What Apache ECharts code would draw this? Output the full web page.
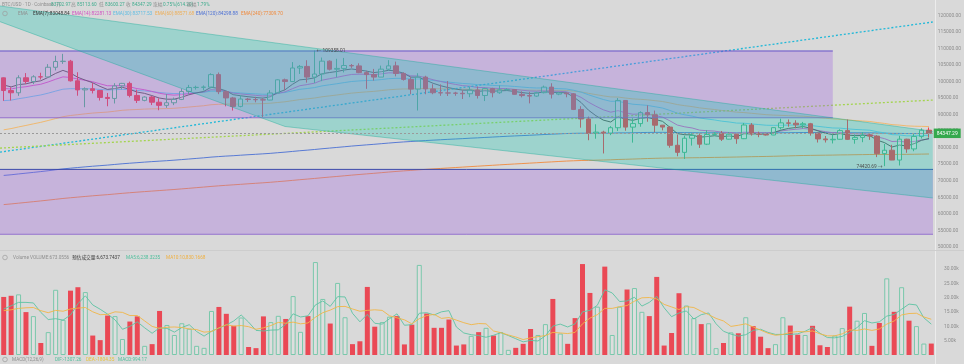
<!DOCTYPE html>
<html><head><meta charset="utf-8">
<script src="https://cdn.jsdelivr.net/npm/echarts@6/dist/echarts.min.js"></script>
<style>html,body{margin:0;padding:0;background:#d9d9d9}#c{width:964px;height:364px}</style>
</head><body><div id="c"></div>
<script>
// ---------- DATA (daily candles) ----------
const opens = [101109,97276,96593,101125,100000,101417,101373,104298,106029,106140,100204,97461,97805,97292,95187,94881,98663,99430,95791,94299,95301,93738,92792,93576,94591,96984,98174,98236,98314,102078,96922,95043,92484,94701,94566,94488,94400,96534,100505,99987,104077,104556,101331,102260,106143,103706,103960,104820,104714,102682,102087,101332,103733,104722,102429,100635,97700,101328,97763,96612,96554,96506,96444,96300,97430,95778,97869,96608,97500,97569,96118,95747,95599,96629,98305,96181,96551,96274,91553,88677,84347,84705,84374,86032,94270,86220,87281,90606,89931,86801,86222,80734,78595,82862,83722,81066,83969,84343,82579,84075,82718,86854,84167,84043,83832,86054,87498,87392,86909,87232,84424,82649,82390,82550,85159,82516,83102,83843,83504,78214,79235,76271,82573,79626,83404,85287];
const closes = [97276,96593,101125,100000,101417,101373,104298,106029,106140,100204,97461,97805,97292,95187,94881,98663,99430,95791,94299,95301,93738,92792,93576,94591,96984,98174,98236,98314,102078,96922,95043,92484,94701,94566,94488,94400,96534,100505,99987,104077,104556,101331,102260,106143,103706,103960,104820,104714,102682,102087,101332,103733,104722,102429,100635,97700,101328,97763,96612,96554,96506,96444,96300,97430,95778,97869,96608,97500,97569,96118,95747,95599,96629,98305,96181,96551,96274,91553,88677,84330,84705,84374,86032,94270,86220,87281,90606,89931,86801,86222,80734,78595,82862,83722,81066,83969,84343,82579,84075,82718,86854,84167,84043,83832,86054,87498,87392,86909,87232,84424,82649,82390,82550,85159,82516,83102,83843,83504,78214,79235,76271,82573,79626,83404,85287,84347.29];
const highs = [101215,98270,101888,102540,101895,102650,105250,107793,108353,106525,102800,98233,99540,97448,96538,99487,99569,99963,97544,95525,95600,94903,96250,95149,97839,98976,98734,98813,102482,102724,97258,95349,95836,95050,95378,95060,97371,100681,100873,105865,104988,106422,109358.01,107240,106394,106850,107120,105286,105500,103260,103800,104800,106457,106012,102783,101456,102500,101732,99188,99120,100137,96880,97323,98345,98500,98119,98100,98826,97972,97704,97046,96883,96899,98767,99475,96890,96650,96503,92540,89414,87078,85120,86522,95000,94416,88911,91000,92810,91224,86876,86500,83955,83617,84358,84300,85263,84672,85051,84725,84200,87453,87443,84850,84513,86094,88765,88542,88292,87786,87494,84567,83534,83943,85579,88500,83998,84720,84230,83783,81119,80867,83588,82700,84247,85856,86100];
const lows = [94150,94256,95658,99311,99205,100609,101228,103333,105321,100000,95700,92232,96398,94250,92520,93357,97632,95199,93500,94014,92881,91317,92033,92869,94392,96100,97562,97291,97926,96181,92500,91220,92206,93831,93712,89256,94346,96500,97335,99950,102278,99651,99550,100103,103339,101262,102750,104106,102520,97777,100272,101328,103320,101560,100279,96150,91231,96150,96155,95676,95620,95688,94713,95256,94850,94088,95217,96252,97223,96046,95205,93388,95362,96416,94871,95869,95227,91371,86050,82256,82716,78258,83794,85050,85117,81530,86334,87836,84667,85226,80000,77420,76606,80635,79931,80797,83639,82017,82492,81179,82600,83647,83175,83674,83794,85541,86346,85861,85837,83645,81565,81565,81279,82432,82320,81211,81659,82368,77153,74420.69,76239,74620,78456,78936,82769,83034];
// volume, thousands
const volumesK = [20.3,20.7,21.2,15.0,13.6,4.2,8.0,22.8,12.3,22.5,23.7,22.0,6.8,5.2,13.8,13.6,5.6,11.7,13.5,3.2,3.8,15.4,10.5,7.0,11.1,9.2,3.2,2.5,15.4,16.8,14.4,10.2,13.1,2.8,2.4,13.5,11.5,13.7,12.6,20.6,8.1,13.6,32.5,19.6,11.0,25.2,13.2,3.8,4.8,23.8,9.9,11.5,13.4,13.6,3.7,10.6,31.5,14.5,9.5,9.5,12.4,3.3,3.7,6.7,8.0,9.5,6.8,8.0,1.8,2.5,3.9,9.1,7.0,10.8,19.6,7.5,3.9,12.9,31.8,21.7,16.9,30.9,7.0,16.9,22.9,23.4,15.1,13.6,27.3,3.3,7.7,21.6,17.3,12.9,10.8,11.1,2.4,4.2,7.9,7.6,13.2,10.1,6.4,2.4,3.8,13.2,10.3,7.1,7.0,10.2,3.4,2.8,6.8,9.4,16.9,12.0,14.7,3.2,11.2,26.8,15.1,23.7,12.0,10.1,4.0,4.0];
const volMa5K = [16.1,17.2,18.4,18.4,18.2,14.9,12.4,12.7,12.2,14.0,17.9,20.7,17.5,16.0,14.3,12.3,9.0,10.0,11.6,9.5,7.6,9.5,9.3,8.0,9.6,10.6,8.2,6.6,8.3,9.4,10.5,11.9,14.0,11.5,8.6,8.4,8.7,8.8,10.7,14.4,13.3,13.7,17.5,18.9,17.0,20.4,20.3,14.6,11.6,14.2,11.1,10.8,12.7,14.4,10.4,10.6,14.6,14.8,14.0,15.1,15.5,9.8,7.7,7.1,6.8,6.2,6.9,7.8,6.8,5.7,4.6,5.1,4.9,6.7,10.1,10.8,9.8,10.9,15.1,15.6,17.4,22.8,21.7,18.7,18.9,20.2,17.1,18.4,20.5,16.5,13.4,14.7,15.4,12.6,14.1,14.7,10.9,8.3,7.3,6.6,7.1,8.6,9.0,7.9,7.2,7.2,7.2,7.4,8.3,9.6,7.6,6.1,6.0,6.5,7.9,9.6,12.0,11.2,11.6,13.6,14.2,16.0,17.8,17.5,13.0,10.8];
const volMa10K = [15.5,15.8,16.3,16.5,16.6,15.5,14.8,15.6,15.3,16.1,16.4,16.6,15.1,14.1,14.2,15.1,14.9,13.8,13.8,11.9,10.0,9.3,9.7,9.8,9.6,9.1,8.9,8.0,8.2,9.5,10.6,10.1,10.3,9.9,9.0,9.5,10.3,11.4,11.1,11.5,10.9,11.2,13.2,14.8,15.7,16.9,17.0,16.1,15.3,15.6,15.8,15.6,13.7,13.0,12.3,10.9,12.7,13.8,14.2,12.8,13.1,12.2,11.3,10.6,11.0,10.9,8.4,7.8,7.0,6.3,5.4,6.0,6.4,6.8,7.9,7.7,7.5,7.9,10.9,12.9,14.1,16.3,16.3,16.9,17.3,18.8,20.0,20.1,19.6,17.7,16.8,15.9,16.9,16.6,15.3,14.1,12.8,11.9,10.0,10.4,10.9,9.8,8.7,7.6,6.9,7.2,7.9,8.2,8.1,8.4,7.4,6.7,6.7,7.4,8.8,8.6,9.1,8.6,9.1,10.8,11.9,14.0,14.5,14.6,13.3,12.5];
// moving averages of price, thousands
const ema7K = [98.95,98.36,99.05,99.29,99.82,100.21,101.23,102.43,103.36,102.57,101.29,100.42,99.64,98.53,97.62,97.88,98.27,97.65,96.81,96.43,95.76,95.02,94.66,94.64,95.23,95.97,96.54,96.98,98.26,97.92,97.20,96.02,95.69,95.41,95.18,94.98,95.37,96.66,97.49,99.14,100.50,100.71,101.10,102.36,102.70,103.02,103.47,103.78,103.50,103.15,102.69,102.95,103.39,103.15,102.52,101.31,101.31,100.42,99.47,98.74,98.18,97.74,97.38,97.39,96.99,97.21,97.06,97.17,97.27,96.98,96.67,96.40,96.46,96.92,96.73,96.68,96.58,95.32,93.66,91.33,89.67,88.34,87.76,89.39,88.60,88.27,88.86,89.13,88.55,87.97,86.16,84.27,83.92,83.87,83.17,83.37,83.61,83.35,83.53,83.33,84.21,84.20,84.16,84.08,84.57,85.30,85.82,86.09,86.38,85.89,85.08,84.41,83.94,84.25,83.82,83.64,83.69,83.64,82.28,81.52,80.21,80.80,80.51,81.23,82.25,82.78];
const ema14K = [97.90,97.73,98.18,98.42,98.82,99.16,99.85,100.67,101.40,101.24,100.74,100.35,99.94,99.31,98.72,98.71,98.81,98.41,97.86,97.52,97.02,96.46,96.08,95.88,96.03,96.32,96.58,96.81,97.51,97.43,97.11,96.49,96.25,96.03,95.82,95.63,95.75,96.38,96.86,97.82,98.72,99.07,99.50,100.39,100.83,101.25,101.73,102.13,102.20,102.19,102.08,102.30,102.62,102.59,102.33,101.71,101.66,101.14,100.54,100.01,99.54,99.13,98.75,98.57,98.20,98.16,97.95,97.89,97.85,97.62,97.37,97.13,97.06,97.23,97.09,97.02,96.92,96.20,95.20,93.75,92.54,91.45,90.73,91.20,90.54,90.11,90.18,90.15,89.70,89.24,88.11,86.84,86.31,85.96,85.31,85.13,85.02,84.69,84.61,84.36,84.69,84.62,84.54,84.45,84.66,85.04,85.35,85.56,85.78,85.60,85.21,84.83,84.53,84.61,84.33,84.17,84.13,84.05,83.27,82.73,81.87,81.96,81.65,81.88,82.33,82.60];
const ema30K = [94.21,94.36,94.80,95.14,95.55,95.93,96.47,97.09,97.67,97.83,97.81,97.81,97.78,97.61,97.43,97.51,97.63,97.51,97.30,97.17,96.95,96.68,96.48,96.36,96.40,96.51,96.62,96.73,97.08,97.07,96.94,96.65,96.52,96.39,96.27,96.15,96.17,96.45,96.68,97.16,97.64,97.88,98.16,98.67,99.00,99.32,99.67,100.00,100.17,100.29,100.36,100.58,100.85,100.95,100.93,100.72,100.76,100.57,100.31,100.07,99.84,99.62,99.41,99.28,99.05,98.97,98.82,98.73,98.66,98.50,98.32,98.14,98.04,98.06,97.94,97.85,97.75,97.35,96.79,95.99,95.26,94.56,94.01,94.03,93.53,93.13,92.97,92.77,92.38,91.98,91.25,90.43,89.94,89.54,88.99,88.67,88.39,88.02,87.77,87.44,87.40,87.19,86.99,86.79,86.74,86.79,86.83,86.84,86.87,86.71,86.45,86.19,85.96,85.91,85.69,85.52,85.41,85.29,84.83,84.47,83.94,83.85,83.58,83.57,83.68,83.72];
const ema60K = [85.40,85.77,86.27,86.72,87.20,87.66,88.21,88.79,89.36,89.72,89.97,90.23,90.46,90.62,90.76,91.02,91.30,91.45,91.54,91.66,91.73,91.76,91.82,91.91,92.08,92.28,92.48,92.67,92.98,93.11,93.17,93.15,93.20,93.24,93.28,93.32,93.43,93.66,93.87,94.20,94.54,94.76,95.01,95.38,95.65,95.92,96.21,96.49,96.69,96.87,97.02,97.24,97.49,97.65,97.75,97.75,97.87,97.87,97.83,97.79,97.75,97.71,97.66,97.65,97.59,97.60,97.57,97.57,97.57,97.52,97.46,97.40,97.37,97.40,97.36,97.33,97.30,97.11,96.83,96.42,96.04,95.66,95.34,95.30,95.00,94.75,94.61,94.46,94.21,93.95,93.52,93.03,92.70,92.41,92.04,91.78,91.54,91.25,91.01,90.74,90.61,90.40,90.19,89.98,89.85,89.77,89.69,89.60,89.52,89.35,89.13,88.91,88.70,88.58,88.38,88.21,88.07,87.92,87.60,87.33,86.97,86.83,86.59,86.49,86.45,86.38];
const ema120K = [71.62,71.82,72.07,72.30,72.54,72.78,73.04,73.32,73.59,73.81,74.01,74.21,74.40,74.57,74.74,74.94,75.14,75.31,75.47,75.64,75.79,75.93,76.07,76.23,76.40,76.58,76.76,76.94,77.15,77.31,77.46,77.58,77.73,77.87,78.00,78.14,78.29,78.48,78.66,78.87,79.08,79.26,79.46,79.68,79.88,80.08,80.28,80.49,80.67,80.85,81.02,81.21,81.40,81.58,81.74,81.87,82.03,82.16,82.28,82.40,82.52,82.63,82.74,82.87,82.97,83.10,83.21,83.33,83.45,83.55,83.65,83.75,83.86,83.98,84.08,84.18,84.28,84.34,84.38,84.38,84.38,84.38,84.39,84.48,84.49,84.51,84.57,84.61,84.63,84.64,84.61,84.56,84.55,84.54,84.51,84.51,84.51,84.49,84.49,84.47,84.49,84.49,84.49,84.48,84.50,84.52,84.54,84.56,84.59,84.59,84.57,84.55,84.54,84.54,84.52,84.51,84.50,84.50,84.44,84.40,84.33,84.32,84.28,84.27,84.28,84.28];
const ema240K = [62.81,63.01,63.24,63.46,63.69,63.92,64.16,64.41,64.66,64.87,65.07,65.27,65.46,65.64,65.81,66.01,66.21,66.39,66.56,66.73,66.89,67.05,67.21,67.37,67.55,67.73,67.92,68.10,68.30,68.47,68.63,68.78,68.93,69.09,69.24,69.39,69.55,69.74,69.92,70.12,70.33,70.52,70.71,70.92,71.12,71.31,71.51,71.71,71.90,72.08,72.26,72.45,72.64,72.82,72.99,73.14,73.31,73.45,73.59,73.73,73.87,74.00,74.14,74.28,74.41,74.55,74.68,74.82,74.95,75.08,75.20,75.33,75.45,75.59,75.71,75.84,75.96,76.05,76.13,76.18,76.23,76.28,76.34,76.44,76.50,76.57,76.65,76.73,76.79,76.85,76.87,76.88,76.92,76.96,76.98,77.03,77.07,77.10,77.14,77.18,77.23,77.28,77.32,77.36,77.41,77.47,77.53,77.59,77.64,77.68,77.71,77.74,77.77,77.82,77.84,77.88,77.91,77.95,77.95,77.96,77.95,77.98,77.99,78.02,78.06,78.10];
// tick labels
const priceTicks = [50000,55000,60000,65000,70000,75000,80000,85000,90000,95000,100000,105000,110000,115000,120000];
const volTicks = [5000,10000,15000,20000,25000,30000];
// drawings, in [bar index, price]
const upperBox = [[-2, 109358.01], [112.0, 88900]];
const lowerBox = [[-2, 73600], [128, 53700]];
const channelPoly = [[-9.6, 125560], [125.5, 84956], [125.5, 64806], [38.0, 86407]];
const cyanTrend = [[-0.5, 78674], [125.5, 117976]];
const greenTrend = [[-0.5, 79883], [125.5, 94383]];
const lastPrice = 84347.29;
const currentVolume = 673.0556;
const highMark = [42, 109358.01];
const lowMark = [119, 74420.69];

// ---------- CHART ----------
const FONT = 'Roboto, "Noto Sans CJK SC", sans-serif';
const N = closes.length;
const RED = '#e8434f', GREEN = '#4fb287';
const chart = echarts.init(document.getElementById('c'), null, {width:964, height:364});
const pairs = (arr, k) => arr.map((v, i) => [i, v * k]);
function lineS(data, color, w, extra) {
  return Object.assign({type:'line', xAxisIndex:0, yAxisIndex:0, data, showSymbol:false, symbol:'none', silent:true, z:2,
    lineStyle:{color, width:w}}, extra || {});
}
function boxSeries(box, fill, topStroke, botStroke) {
  return {type:'custom', xAxisIndex:0, yAxisIndex:0, z:3, silent:true, clip:true, data:[[0, 80000]],
    renderItem:(p, api) => {
      const a = api.coord(box[0]), b = api.coord(box[1]);
      const x = Math.min(a[0], b[0]), y = Math.min(a[1], b[1]);
      const w = Math.abs(b[0] - a[0]), h = Math.abs(b[1] - a[1]);
      return {type:'group', children:[
        {type:'rect', shape:{x, y, width:w, height:h}, style:{fill}},
        {type:'line', shape:{x1:x, y1:y + 0.5, x2:x + w, y2:y + 0.5}, style:{stroke:topStroke, lineWidth:1}},
        {type:'line', shape:{x1:x, y1:y + h - 0.5, x2:x + w, y2:y + h - 0.5}, style:{stroke:botStroke, lineWidth:1}}
      ]};
    }};
}
const channelSeries = {type:'custom', xAxisIndex:0, yAxisIndex:0, z:3, silent:true, clip:true, data:[[0, 80000]],
  renderItem:(p, api) => {
    const pts = channelPoly.map(q => api.coord(q));
    return {type:'group', children:[
      {type:'polygon', shape:{points:pts}, style:{fill:'rgba(20,200,178,0.30)'}},
      {type:'line', shape:{x1:pts[0][0], y1:pts[0][1], x2:pts[1][0], y2:pts[1][1]}, style:{stroke:'rgba(20,170,150,0.5)', lineWidth:0.8}},
      {type:'line', shape:{x1:pts[3][0], y1:pts[3][1], x2:pts[2][0], y2:pts[2][1]}, style:{stroke:'rgba(20,170,150,0.5)', lineWidth:0.8}},
      {type:'line', shape:{x1:pts[0][0], y1:pts[0][1], x2:pts[3][0], y2:pts[3][1]}, style:{stroke:'rgba(20,170,150,0.5)', lineWidth:0.8}}
    ]};
  }};
const markSeries = {type:'custom', xAxisIndex:0, yAxisIndex:0, z:6, silent:true, clip:false, data:[[0, 80000]],
  renderItem:(p, api) => {
    const h = api.coord(highMark), l = api.coord(lowMark);
    return {type:'group', children:[
      {type:'text', x:h[0] + 2, y:h[1], style:{text:'← ' + highMark[1].toFixed(2), fill:'#4a4a4a', font:'4.8px ' + FONT, align:'left', verticalAlign:'middle'}},
      {type:'text', x:l[0] - 2, y:l[1] + 0.5, style:{text:lowMark[1].toFixed(2) + ' →', fill:'#4a4a4a', font:'4.8px ' + FONT, align:'right', verticalAlign:'middle'}}
    ]};
  }};

const candleData = opens.map((o, i) => [i, o, closes[i], lows[i], highs[i]]);
const volData = volumesK.map((v, i) => ({
  value:[i, v * 1000],
  itemStyle: closes[i] >= opens[i]
    ? {color:'rgba(255,255,255,0.15)', borderColor:'#79c8ab', borderWidth:1}
    : {color:'#ea4955', borderWidth:0}
}));

const xAx = g => ({type:'value', gridIndex:g, min:-0.5, max:N - 0.5, show:false});
const option = {
  animation:false,
  backgroundColor:'#d9d9d9',
  textStyle:{fontFamily:FONT},
  grid:[{left:0, right:29, top:0, height:247}, {left:0, right:29, top:254.9, height:100.1}],
  xAxis:[xAx(0), xAx(1)],
  yAxis:[
    {type:'value', gridIndex:0, position:'right', min:50000, max:124622, interval:5000,
      splitLine:{show:false}, axisLine:{show:false}, axisTick:{show:false},
      axisLabel:{fontSize:4.9, color:'#8d8d8d', margin:5, fontFamily:FONT,
        formatter:v => priceTicks.includes(v) ? v.toFixed(2) : ''}},
    {type:'value', gridIndex:1, position:'right', min:0, max:35000, interval:5000,
      splitLine:{show:false}, axisLine:{show:false}, axisTick:{show:false},
      axisLabel:{fontSize:4.9, color:'#8d8d8d', margin:9, fontFamily:FONT,
        formatter:v => volTicks.includes(v) ? (v / 1000).toFixed(2) + 'k' : ''}}
  ],
  series:[
    lineS(pairs(ema240K, 1000), '#f08a3c', 0.9),
    lineS(pairs(ema120K, 1000), '#4a6fd4', 0.9),
    lineS(pairs(ema60K, 1000), '#f2b463', 0.9),
    lineS(pairs(ema30K, 1000), '#62bfe4', 0.9),
    lineS(pairs(ema14K, 1000), '#d24fc2', 0.9),
    lineS(pairs(ema7K, 1000), '#4d4d4d', 0.9),
    lineS(cyanTrend, '#20b8d8', 1.3, {lineStyle:{color:'#20b8d8', width:1.3, type:[2, 2]}}),
    lineS(greenTrend, '#a3d44e', 1.3, {lineStyle:{color:'#a3d44e', width:1.3, type:[2, 2]}}),
    {type:'candlestick', xAxisIndex:0, yAxisIndex:0, z:2, silent:true, barWidth:5,
      encode:{x:0, y:[1, 2, 3, 4]}, data:candleData,
      itemStyle:{color:'rgba(255,255,255,0.2)', borderColor:GREEN, color0:RED, borderColor0:RED, borderWidth:1},
      markLine:{silent:true, symbol:['none', 'none'], animation:false,
        data:[{yAxis:lastPrice}],
        lineStyle:{color:'#9a9a9a', type:[2, 2], width:1},
        label:{show:true, position:'end', distance:1, formatter:() => lastPrice.toFixed(2),
          backgroundColor:'#35a94d', color:'#ffffff', fontSize:5, fontFamily:FONT, padding:[2.5, 3, 2, 3]}}},
    boxSeries(lowerBox, 'rgba(160,100,225,0.32)', 'rgba(45,65,165,0.9)', 'rgba(130,90,200,0.7)'),
    boxSeries(upperBox, 'rgba(160,100,225,0.32)', 'rgba(95,80,200,0.9)', 'rgba(130,90,200,0.7)'),
    channelSeries,
    markSeries,
    {type:'bar', xAxisIndex:1, yAxisIndex:1, barWidth:5, silent:true, data:volData, z:2,
      markLine:{silent:true, symbol:['none', 'none'], animation:false, data:[{yAxis:currentVolume}],
        lineStyle:{opacity:0},
        label:{show:true, position:'end', distance:1, formatter:() => currentVolume.toFixed(2),
          backgroundColor:'#f2a93b', color:'#ffffff', fontSize:4.8, fontFamily:FONT, padding:[2.5, 5, 2, 5]}}},
    {type:'line', xAxisIndex:1, yAxisIndex:1, data:pairs(volMa5K, 1000), showSymbol:false, symbol:'none', silent:true, z:3,
      lineStyle:{color:'#5cc3a3', width:0.9}},
    {type:'line', xAxisIndex:1, yAxisIndex:1, data:pairs(volMa10K, 1000), showSymbol:false, symbol:'none', silent:true, z:3,
      lineStyle:{color:'#f1b546', width:0.9}}
  ],
  graphic:[]
};

// legends / separators
const G = [];
function t(x, y, text, fill, size) {
  G.push({type:'text', x, y, silent:true, z:20, style:{text, fill, font:(size || 4.7) + 'px ' + FONT, verticalAlign:'middle'}});
}
function ring(x, y) {
  G.push({type:'circle', silent:true, z:20, shape:{cx:x, cy:y, r:2.3}, style:{fill:'none', stroke:'#9c9c9c', lineWidth:0.7}});
}
G.push({type:'line', silent:true, z:1, shape:{x1:935.5, y1:0, x2:935.5, y2:364}, style:{stroke:'#ececec', lineWidth:1}});
G.push({type:'line', silent:true, z:1, shape:{x1:0, y1:250.5, x2:964, y2:250.5}, style:{stroke:'#cdcdcd', lineWidth:1}});
// line 1
t(2, 4.5, 'BTC/USD · 1D · Coinbase  开', '#8f8f8f');
t(51, 4.5, '83702.97', '#41ad8f');
t(71, 4.5, '高', '#8f8f8f'); t(77, 4.5, '85113.60', '#41ad8f');
t(99, 4.5, '低', '#8f8f8f'); t(105, 4.5, '83600.27', '#41ad8f');
t(126, 4.5, '收', '#8f8f8f'); t(132, 4.5, '84347.29', '#41ad8f');
t(153, 4.5, '涨幅', '#8f8f8f'); t(163, 4.5, '0.75%(614.20)', '#41ad8f');
t(187, 4.5, '振幅', '#8f8f8f'); t(197, 4.5, '1.79%', '#41ad8f');
// line 2
ring(5, 13.5);
t(18, 13.5, 'EMA', '#8f8f8f');
t(33, 13.5, 'EMA(7):83048.84', '#333333');
t(72, 13.5, 'EMA(14):82281.13', '#d24fc2');
t(113, 13.5, 'EMA(30):83717.53', '#5fbde3');
t(155, 13.5, 'EMA(60):88571.68', '#eeae55');
t(196, 13.5, 'EMA(120):84298.88', '#4a6fd4');
t(241, 13.5, 'EMA(240):77309.70', '#f08a3c');
// volume legend
ring(5, 257.5);
t(13, 257.5, 'Volume', '#8f8f8f');
t(30, 257.5, 'VOLUME:673.0556', '#8f8f8f');
t(72, 257.5, '预估成交量:6,673.7437', '#3c3c3c');
t(126, 257.5, 'MA5:6,238.3235', '#4fbf9c');
t(166, 257.5, 'MA10:10,830.1668', '#f0b040');
// MACD legend
ring(5, 359.5);
t(12, 359.5, 'MACD(12,26,9)', '#8f8f8f');
t(55, 359.5, 'DIF:-1307.26', '#4fbf9c');
t(86, 359.5, 'DEA:-1804.35', '#e8c23a');
t(118, 359.5, 'MACD:994.17', '#4fbf9c');
option.graphic = G;
chart.setOption(option);
</script>
</body></html>
